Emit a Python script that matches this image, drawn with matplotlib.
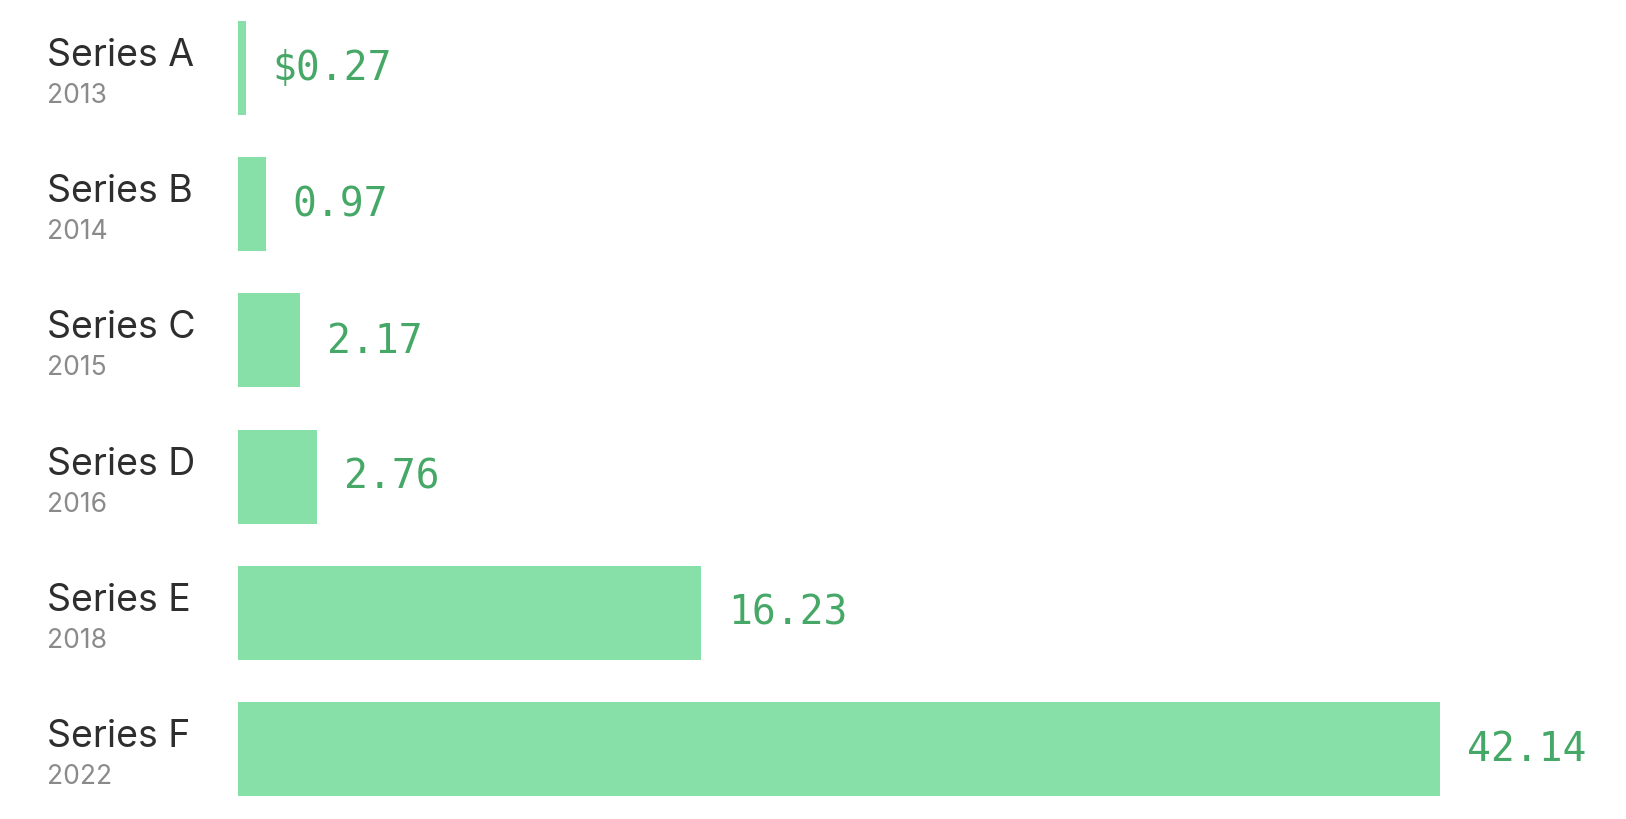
import matplotlib.pyplot as plt
import matplotlib.transforms as mtransforms

# data
series = ["Series A", "Series B", "Series C", "Series D", "Series E", "Series F"]
years = ["2013", "2014", "2015", "2016", "2018", "2022"]
values = [0.27, 0.97, 2.17, 2.76, 16.23, 42.14]
value_labels = ["$0.27", "0.97", "2.17", "2.76", "16.23", "42.14"]

bar_color = "#88e0a9"
text_green = "#45a866"

fig = plt.figure(figsize=(16.26, 8.2), dpi=100)
ax = fig.add_axes([238 / 1626, 0, 1 - 238 / 1626, 1])

ypos = list(range(len(values)))
ax.barh(ypos, values, height=0.69, color=bar_color)
ax.set_xlim(0, 1388 / 28.52)
ax.set_ylim(5.514, -0.5066)
ax.axis("off")

# left labels: x in figure coords, y in data coords
trans = mtransforms.blended_transform_factory(fig.transFigure, ax.transData)
for y, name, yr in zip(ypos, series, years):
    ax.text(47 / 1626, y - 0.022, name, transform=trans, family="Inter",
            fontsize=27, color="#2e2e2e", va="baseline", ha="left")
    ax.text(47 / 1626, y + 0.25, yr, transform=trans, family="Inter",
            fontsize=19, color="#8a8a8a", va="baseline", ha="left")

# value labels next to bars
for y, v, lab in zip(ypos, values, value_labels):
    ax.annotate(lab, (v, y), xytext=(27 * 0.72, -8), textcoords="offset points",
                family="DejaVu Sans Mono", fontsize=28.5, color=text_green,
                va="baseline", ha="left")

fig.savefig("out.png", dpi=100, facecolor="white")
